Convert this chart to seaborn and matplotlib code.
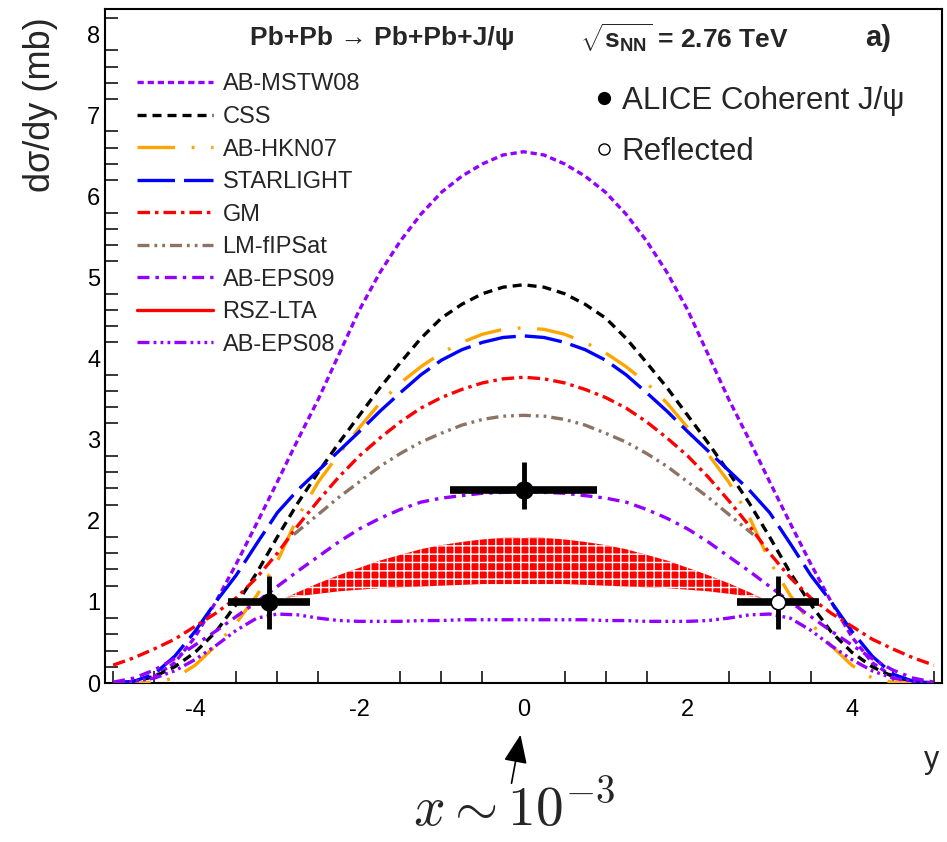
import numpy as np
import matplotlib
matplotlib.use('Agg')
import matplotlib.pyplot as plt
import seaborn as sns
from matplotlib.ticker import MultipleLocator
from matplotlib.lines import Line2D

# ── Data (curves are symmetric in y; values read for y >= 0) ─────────────────
Y_HALF = [0.0, 0.25, 0.5, 0.75, 1.0, 1.25, 1.5, 1.75, 2.0, 2.25, 2.5,
          2.75, 3.0, 3.25, 3.5, 3.75, 4.0, 4.25, 4.5, 4.75, 5.0]
AB_MSTW08 = [6.55, 6.51, 6.40, 6.25, 6.05, 5.78, 5.45, 5.06, 4.60, 4.05, 3.50,
             3.00, 2.48, 1.97, 1.47, 1.00, 0.57, 0.25, 0.08, 0.02, 0.0]
CSS = [4.91, 4.88, 4.80, 4.67, 4.50, 4.25, 3.95, 3.64, 3.30, 2.96, 2.60,
       2.22, 1.80, 1.36, 0.97, 0.63, 0.38, 0.20, 0.08, 0.02, 0.0]
AB_HKN07 = [4.38, 4.36, 4.30, 4.20, 4.07, 3.90, 3.70, 3.45, 3.15, 2.82, 2.48,
            2.05, 1.50, 1.08, 0.74, 0.46, 0.22, 0.06, 0.01, 0.0, 0.0]
STARLIGHT = [4.28, 4.26, 4.20, 4.11, 3.98, 3.80, 3.58, 3.35, 3.10, 2.86, 2.62,
             2.38, 2.10, 1.72, 1.33, 1.00, 0.64, 0.33, 0.11, 0.02, 0.0]
GM = [3.77, 3.75, 3.70, 3.62, 3.52, 3.39, 3.22, 3.02, 2.80, 2.54, 2.25,
      1.94, 1.60, 1.30, 1.05, 0.86, 0.70, 0.54, 0.42, 0.31, 0.22]
AB_EPS09 = [2.36, 2.35, 2.34, 2.31, 2.28, 2.23, 2.14, 2.03, 1.90, 1.74, 1.56,
            1.38, 1.19, 1.00, 0.82, 0.64, 0.47, 0.30, 0.16, 0.06, 0.01]
AB_EPS08 = [0.78, 0.78, 0.78, 0.78, 0.77, 0.77, 0.76, 0.76, 0.76, 0.77, 0.80,
            0.84, 0.85, 0.80, 0.65, 0.46, 0.29, 0.15, 0.06, 0.02, 0.0]

LM_Y = [0.0, 0.25, 0.5, 0.75, 1.0, 1.25, 1.5, 1.75, 2.0, 2.25, 2.5, 2.8]
LM_FIPSAT = [3.30, 3.29, 3.25, 3.18, 3.08, 2.97, 2.83, 2.67, 2.48, 2.29, 2.08, 1.83]

RSZ_Y = [0.0, 0.25, 0.5, 0.75, 1.0, 1.25, 1.5, 1.75, 2.0, 2.25, 2.5, 2.75, 2.9]
RSZ_HI = [1.80, 1.79, 1.77, 1.74, 1.70, 1.65, 1.58, 1.51, 1.42, 1.33, 1.23, 1.12, 1.05]
RSZ_LO = [1.22, 1.22, 1.22, 1.21, 1.20, 1.19, 1.18, 1.17, 1.15, 1.13, 1.10, 1.07, 1.05]

# ALICE points
ALICE_Y = [0.0, -3.1]
ALICE_VAL = [2.38, 1.00]
ALICE_XERR = [0.9, 0.5]
ALICE_ELO = [0.24, 0.33]
ALICE_EHI = [0.34, 0.32]
REFL_Y = [3.1]
REFL_VAL = [1.00]
REFL_XERR = [0.5]
REFL_ELO = [0.33]
REFL_EHI = [0.32]


def mirror_x(half):
    h = np.asarray(half, dtype=float)
    return np.concatenate([-h[:0:-1], h])


def mirror_v(half):
    h = np.asarray(half, dtype=float)
    return np.concatenate([h[:0:-1], h])


# ── Style ────────────────────────────────────────────────────────────────────
sns.set_theme(style='white')
plt.rcParams['font.family'] = ['Liberation Sans', 'DejaVu Sans']
plt.rcParams['axes.unicode_minus'] = False
plt.rcParams['lines.scale_dashes'] = False
plt.rcParams['hatch.linewidth'] = 1.0
plt.rcParams['mathtext.fontset'] = 'custom'
plt.rcParams['mathtext.rm'] = 'Liberation Sans:bold'
plt.rcParams['mathtext.bf'] = 'Liberation Sans:bold'
plt.rcParams['mathtext.it'] = 'Liberation Sans:bold'

PURPLE = '#9300ff'
LW = 2.4

CURVES = [
    ('AB-MSTW08', Y_HALF, AB_MSTW08, PURPLE, (0, (4.5, 2.8))),
    ('CSS', Y_HALF, CSS, 'black', (0, (6.5, 4.3))),
    ('AB-HKN07', Y_HALF, AB_HKN07, '#ffa500', (0, (27, 12, 2, 12))),
    ('STARLIGHT', Y_HALF, STARLIGHT, '#0000ff', (0, (27, 6.5))),
    ('GM', Y_HALF, GM, '#ff0000', (0, (9, 3.6, 2.5, 3.6))),
    ('LM-fIPSat', LM_Y, LM_FIPSAT, '#8c7364', (0, (8.6, 3.6, 2, 3.6, 2, 3.6))),
    ('AB-EPS09', Y_HALF, AB_EPS09, PURPLE, (0, (8.6, 4.3, 2.5, 4.3))),
    ('RSZ-LTA', None, None, '#ff0000', '-'),
    ('AB-EPS08', Y_HALF, AB_EPS08, PURPLE, (0, (8.6, 3, 2, 3, 2, 3, 2, 3))),
]

fig = plt.figure(figsize=(9.47, 8.42), dpi=100)
W, H = 947.0, 842.0
ax = fig.add_axes([105 / W, 1 - 683 / H, 837 / W, 674 / H])

# RSZ-LTA band
rx = mirror_x(RSZ_Y)
ax.fill_between(rx, mirror_v(RSZ_LO), mirror_v(RSZ_HI), facecolor='#ff0000',
                edgecolor='white', hatch='++', linewidth=0, zorder=2)

handles = []
for label, yh, vals, color, ls in CURVES:
    if yh is None:
        handles.append(Line2D([], [], color=color, lw=LW, ls=ls))
        continue
    sns.lineplot(x=mirror_x(yh), y=mirror_v(vals), ax=ax, color=color, lw=LW,
                 linestyle=ls, sort=False, estimator=None, errorbar=None,
                 legend=False, zorder=3)
    handles.append(ax.lines[-1])

# ALICE data + reflected point
ax.errorbar(ALICE_Y, ALICE_VAL, xerr=ALICE_XERR, yerr=None, fmt='none',
            ecolor='black', elinewidth=5.5, capsize=0, zorder=5)
ax.errorbar(ALICE_Y, ALICE_VAL, yerr=[ALICE_ELO, ALICE_EHI], fmt='none',
            ecolor='black', elinewidth=3.5, capsize=0, zorder=5)
ax.errorbar(REFL_Y, REFL_VAL, xerr=REFL_XERR, yerr=None, fmt='none',
            ecolor='black', elinewidth=5.5, capsize=0, zorder=5)
ax.errorbar(REFL_Y, REFL_VAL, yerr=[REFL_ELO, REFL_EHI], fmt='none',
            ecolor='black', elinewidth=3.5, capsize=0, zorder=5)
sns.scatterplot(x=ALICE_Y, y=ALICE_VAL, ax=ax, color='black', s=150,
                edgecolor='black', zorder=6, legend=False)
sns.scatterplot(x=REFL_Y, y=REFL_VAL, ax=ax, color='white', s=110,
                edgecolor='black', linewidth=1.2, zorder=6, legend=False)

# ── Axes ─────────────────────────────────────────────────────────────────────
ax.set_xlim(-5.1, 5.1)
ax.set_ylim(0, 8.31)
ax.xaxis.set_major_locator(MultipleLocator(2))
ax.xaxis.set_minor_locator(MultipleLocator(0.5))
ax.yaxis.set_major_locator(MultipleLocator(1))
ax.yaxis.set_minor_locator(MultipleLocator(0.2))
ax.tick_params(axis='both', which='both', direction='in', colors='black',
               top=False, right=False, width=1.1)
ax.tick_params(axis='y', which='major', length=17, pad=3.5, labelsize=17)
ax.tick_params(axis='y', which='minor', length=9.5, left=True)
ax.tick_params(axis='x', which='major', length=16, pad=11.5, labelsize=17)
ax.tick_params(axis='x', which='minor', length=8.5, bottom=True)
for sp in ax.spines.values():
    sp.set_color('black')
    sp.set_linewidth(1.5)
ax.set_xlabel('')
ax.set_ylabel('')

fig.text(40 / W, 1 - 17 / H, 'dσ/dy (mb)', rotation=90, ha='center', va='top',
         fontsize=26)
fig.text(932 / W, 1 - 760 / H, 'y', ha='center', va='center', fontsize=22)

# title line
fig.text(250 / W, 1 - 38 / H, 'Pb+Pb → Pb+Pb+J/ψ', ha='left', va='center',
         fontsize=19, fontweight='bold')
fig.text(580 / W, 1 - 38 / H, r'$\sqrt{\mathbf{s}_{\mathbf{NN}}}$ = 2.76 TeV',
         ha='left', va='center', fontsize=19, fontweight='bold')
fig.text(865 / W, 1 - 38 / H, 'a)', ha='left', va='center', fontsize=21,
         fontweight='bold')

# model legend
leg1 = ax.legend(handles, [c[0] for c in CURVES], loc='upper left',
                 bbox_to_anchor=(137 / W, 1 - 73.5 / H),
                 bbox_transform=fig.transFigure, frameon=False, fontsize=17,
                 handlelength=3.2, handletextpad=0.42, labelspacing=0.445,
                 borderpad=0, borderaxespad=0)
ax.add_artist(leg1)

# data legend
data_handles = [
    Line2D([], [], marker='o', ls='none', color='black', markersize=8.5),
    Line2D([], [], marker='o', ls='none', color='black', markerfacecolor='white',
           markersize=8, markeredgewidth=1.0),
]
ax.legend(data_handles, ['ALICE Coherent J/ψ', 'Reflected'], loc='upper left',
          bbox_to_anchor=(595 / W, 1 - 86 / H), bbox_transform=fig.transFigure,
          frameon=False, fontsize=22.5, handlelength=0.6, handletextpad=0.25,
          labelspacing=0.66, borderpad=0, borderaxespad=0)

# x ~ 10^-3 annotation with arrow to y = 0
ax.annotate('', xy=(521 / W, 1 - 732 / H), xytext=(511 / W, 1 - 786 / H),
            xycoords='figure fraction', textcoords='figure fraction',
            arrowprops=dict(arrowstyle='-|>,head_length=0.8,head_width=0.33',
                            color='black', lw=1.2, mutation_scale=22))
fig.text(413 / W, 1 - 826 / H, r'$x \sim 10^{-3}$', ha='left', va='baseline',
         fontsize=40, math_fontfamily='cm')

fig.savefig('out.png', dpi=100)
